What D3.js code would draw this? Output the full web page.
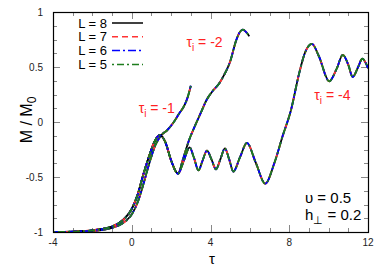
<!DOCTYPE html>
<html>
<head>
<meta charset="utf-8">
<script src="https://cdn.jsdelivr.net/npm/d3@7"></script>
<style>
  body { margin: 0; background: #fff; }
  svg { display: block; font-family: "Liberation Sans", Arial, sans-serif; }
</style>
</head>
<body>
<svg id="chart" width="382" height="267"></svg>
<script>
// magnetisation M/M0 vs tau
var xTicks = [-4, 0, 4, 8, 12];
var yTicks = [-1, -0.5, 0, 0.5, 1];
var yTickLabels = ['-1', '-0.5', '0', '0.5', '1'];

// common rise shared by tau_i = -4 and tau_i = -2
var rise = [[-4, -1], [-3, -0.997], [-2, -0.985], [-1.5, -0.972], [-1, -0.95], [-0.5, -0.9],
  [0, -0.79], [0.3, -0.66], [0.6, -0.47], [0.9, -0.3], [1.15, -0.18], [1.42, -0.12],
  [1.7, -0.18], [2.0, -0.35], [2.35, -0.47]];

var ti4Tail = [[2.65, -0.35], [2.94, -0.23], [3.15, -0.32], [3.39, -0.44], [3.6, -0.35],
  [3.82, -0.26], [4.05, -0.34], [4.28, -0.43], [4.5, -0.34], [4.73, -0.24], [4.95, -0.34],
  [5.16, -0.45], [5.5, -0.32], [5.85, -0.19], [6.3, -0.37], [6.78, -0.56], [7.24, -0.375],
  [7.66, -0.13], [8.09, 0.11], [8.5, 0.44], [8.8, 0.63], [9.15, 0.71], [9.5, 0.6],
  [10.03, 0.37], [10.4, 0.48], [10.72, 0.61], [11.0, 0.52], [11.22, 0.41], [11.5, 0.5],
  [11.71, 0.575], [12, 0.49]];

var ti2Tail = [[2.6, -0.34], [2.9, -0.17], [3.2, -0.04], [3.5, 0.08], [3.8, 0.2], [4.1, 0.28],
  [4.4, 0.34], [4.7, 0.43], [5.0, 0.55], [5.3, 0.74], [5.5, 0.82], [5.64, 0.84], [5.8, 0.82],
  [5.97, 0.78]];

var ti1 = [[-4, -1], [-3, -0.998], [-2, -0.99], [-1, -0.962], [-0.5, -0.925], [0, -0.84],
  [0.3, -0.73], [0.6, -0.56], [0.9, -0.37], [1.2, -0.21], [1.5, -0.12], [1.8, -0.075],
  [2.1, -0.01], [2.4, 0.075], [2.7, 0.16], [2.85, 0.23], [3.0, 0.33]];

var curves = [ti1, rise.concat(ti2Tail), rise.concat(ti4Tail)];

var sizes = ['L = 8', 'L = 7', 'L = 6', 'L = 5'];
var lineColors = ['#000000', '#ff3333', '#0000ff', '#1e7d1e'];
var lineDash = [null, '6,4', '8,3,2,3', '2,3,7,3'];

var tauLabels = [{t: '-1', x: 0.35, y: 0.08}, {t: '-2', x: 2.78, y: 0.68}, {t: '-4', x: 9.27, y: 0.2}];

var W = 382, H = 267;
var m = {left: 53, right: 368, top: 12, bottom: 232};

var svg = d3.select('#chart');

var x = d3.scaleLinear().domain([-4, 12]).range([m.left, m.right]);
var y = d3.scaleLinear().domain([-1, 1]).range([m.bottom, m.top]);

// ticks, all pointing inward on four sides
var minorX = d3.range(-4, 12.01, 1);
var minorY = d3.range(-1, 1.001, 0.125);
var tk = svg.append('g').attr('stroke', '#888').attr('stroke-width', 1);

minorX.forEach(function(v) {
  var len = xTicks.indexOf(v) >= 0 ? 7 : 4;
  var px = Math.round(x(v)) + 0.5;
  tk.append('line').attr('x1', px).attr('x2', px).attr('y1', m.bottom).attr('y2', m.bottom - len);
  tk.append('line').attr('x1', px).attr('x2', px).attr('y1', m.top).attr('y2', m.top + len);
});
minorY.forEach(function(v) {
  var major = yTicks.some(function(t) { return Math.abs(t - v) < 1e-6; });
  var len = major ? 7 : 4;
  var py = Math.round(y(v)) + 0.5;
  tk.append('line').attr('y1', py).attr('y2', py).attr('x1', m.left).attr('x2', m.left + len);
  tk.append('line').attr('y1', py).attr('y2', py).attr('x1', m.right).attr('x2', m.right - len);
});

// tick labels
svg.append('g').selectAll('text').data(xTicks).enter().append('text')
  .attr('x', function(d) { return x(d); })
  .attr('y', 246)
  .attr('text-anchor', 'middle')
  .attr('font-size', 10)
  .attr('fill', '#222')
  .text(function(d) { return d; });

svg.append('g').selectAll('text').data(yTicks).enter().append('text')
  .attr('x', 43)
  .attr('y', function(d) { return y(d) + 3.5; })
  .attr('text-anchor', 'end')
  .attr('font-size', 10)
  .attr('fill', '#222')
  .text(function(d, i) { return yTickLabels[i]; });

// curves: one set of four L lines per tau_i
var line = d3.line()
  .x(function(d) { return x(d[0]); })
  .y(function(d) { return y(d[1]); })
  .curve(d3.curveMonotoneX);

var plot = svg.append('g');
curves.forEach(function(c) {
  sizes.forEach(function(s, i) {
    plot.append('path')
      .attr('d', line(c))
      .attr('fill', 'none')
      .attr('stroke', lineColors[i])
      .attr('stroke-width', 1.8)
      .attr('stroke-dasharray', lineDash[i]);
  });
});

// frame
svg.append('rect')
  .attr('x', m.left + 0.5).attr('y', m.top + 0.5)
  .attr('width', m.right - m.left).attr('height', m.bottom - m.top)
  .attr('fill', 'none').attr('stroke', '#000').attr('stroke-width', 1.2);

// legend
var leg = svg.append('g');
sizes.forEach(function(s, i) {
  var ly = 23 + i * 13.8;
  leg.append('text')
    .attr('x', 107).attr('y', ly + 4.5)
    .attr('text-anchor', 'end')
    .attr('font-size', 13)
    .attr('fill', '#000')
    .text(s);
  leg.append('line')
    .attr('x1', 112).attr('x2', 143).attr('y1', ly).attr('y2', ly)
    .attr('stroke', lineColors[i]).attr('stroke-width', 1.5)
    .attr('stroke-dasharray', lineDash[i]);
});

// tau_i labels
tauLabels.forEach(function(d) {
  var t = svg.append('text')
    .attr('x', x(d.x)).attr('y', y(d.y))
    .attr('font-size', 14)
    .attr('fill', '#ff2222');
  t.append('tspan').text('τ');
  t.append('tspan').attr('font-size', 10).attr('dy', 4).text('i');
  t.append('tspan').attr('dy', -4).text(' = ' + d.t);
});

// parameters
svg.append('text').attr('x', 305).attr('y', 203).attr('font-size', 15).attr('fill', '#000')
  .text('υ = 0.5');
var h = svg.append('text').attr('x', 305).attr('y', 220).attr('font-size', 15).attr('fill', '#000');
h.append('tspan').text('h');
h.append('tspan').attr('font-size', 11).attr('dy', 4).text('⊥');
h.append('tspan').attr('dy', -4).text(' = 0.2');

// axis titles
svg.append('text')
  .attr('x', 212).attr('y', 263.5)
  .attr('text-anchor', 'middle')
  .attr('font-size', 15)
  .attr('fill', '#000')
  .text('τ');

var yl = svg.append('text')
  .attr('transform', 'translate(32,120) rotate(-90)')
  .attr('text-anchor', 'middle')
  .attr('font-size', 16)
  .attr('fill', '#000');
yl.append('tspan').text('M / M');
yl.append('tspan').attr('font-size', 12).attr('dy', 4).text('0');
</script>
</body>
</html>
